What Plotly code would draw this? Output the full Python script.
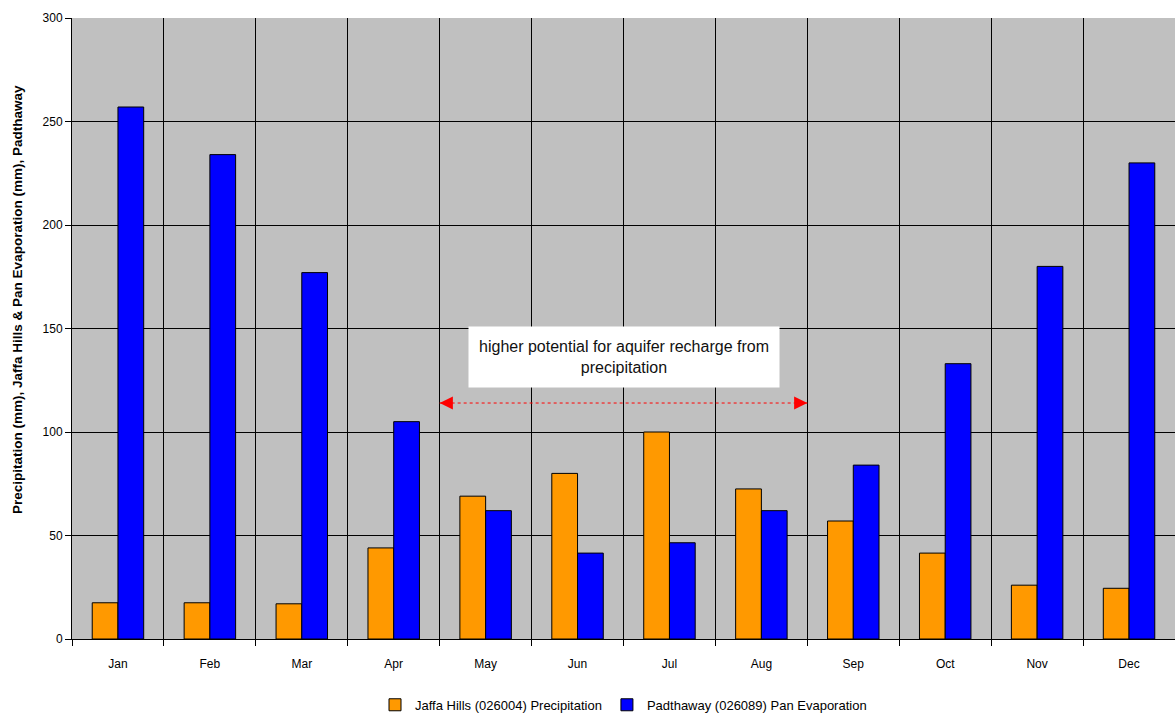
import plotly.graph_objects as go

months = ["Jan", "Feb", "Mar", "Apr", "May", "Jun", "Jul", "Aug", "Sep", "Oct", "Nov", "Dec"]
precip_jaffa = [17.5, 17.5, 17, 44, 69, 80, 100, 72.5, 57, 41.5, 26, 24.5]
evap_padthaway = [257, 234, 177, 105, 62, 41.5, 46.5, 62, 84, 133, 180, 230]
y_ticks = [0, 50, 100, 150, 200, 250, 300]

recharge_start = 3.5   # boundary between Apr and May
recharge_end = 7.5     # boundary between Aug and Sep
recharge_level = 114

font_family = "Liberation Sans, Arial, sans-serif"

fig = go.Figure()
fig.add_trace(go.Bar(
    x=months, y=precip_jaffa,
    name="Jaffa Hills (026004) Precipitation",
    marker=dict(color="#FF9900", line=dict(color="black", width=1)),
))
fig.add_trace(go.Bar(
    x=months, y=evap_padthaway,
    name="Padthaway (026089) Pan Evaporation",
    marker=dict(color="#0000FF", line=dict(color="black", width=1)),
))

# dotted double-headed arrow marking the recharge window
fig.add_shape(type="line", xref="x", yref="y",
              x0=recharge_start, x1=recharge_end,
              y0=recharge_level, y1=recharge_level,
              line=dict(color="red", width=1, dash="dot"))
for tip, tail_px in [(recharge_start, 10), (recharge_end, -10)]:
    fig.add_annotation(
        x=tip, y=recharge_level, xref="x", yref="y",
        ax=tail_px, ay=0, axref="pixel", ayref="pixel",
        showarrow=True, arrowhead=2, arrowsize=2.2, arrowwidth=1.2,
        arrowcolor="red", standoff=0, text="",
    )

fig.add_annotation(
    x=5.51, y=136, xref="x", yref="y",
    text="higher potential for aquifer recharge from<br>precipitation",
    showarrow=False, bgcolor="white", width=308, height=58,
    font=dict(family=font_family, size=16, color="#111"),
    align="center",
)

fig.add_annotation(
    x=0, xshift=-54, y=0.546, xref="paper", yref="paper",
    xanchor="center", yanchor="middle",
    text="<b>Precipitation (mm), Jaffa Hills & Pan Evaporation (mm), Padthaway</b>",
    textangle=-90, showarrow=False,
    font=dict(family=font_family, size=13.5, color="black"),
)

fig.update_layout(
    width=1175, height=713,
    margin=dict(l=72, r=0, t=18, b=74, autoexpand=False),
    paper_bgcolor="white",
    plot_bgcolor="#C0C0C0",
    barmode="group",
    bargap=0.44,
    bargroupgap=0,
    font=dict(family=font_family, size=12, color="black"),
    legend=dict(orientation="h", x=0.5, xanchor="center", y=-0.106, yanchor="middle",
                font=dict(size=13), traceorder="normal", itemwidth=30),
    showlegend=True,
)
fig.update_xaxes(
    tickson="boundaries", ticks="outside", ticklen=6, tickcolor="black",
    showgrid=True, gridcolor="black", gridwidth=1,
    showline=True, linecolor="black", linewidth=1,
    tickfont=dict(size=12), range=[-0.5, 11.5],
    ticklabelstandoff=14, automargin=False,
)
fig.update_yaxes(
    range=[0, 300], tickvals=y_ticks, ticks="outside", ticklen=6, tickcolor="black",
    showgrid=True, gridcolor="black", gridwidth=1,
    showline=True, linecolor="black", linewidth=1,
    zeroline=False, tickfont=dict(size=12), automargin=False,
)

fig.write_html("out.html")
